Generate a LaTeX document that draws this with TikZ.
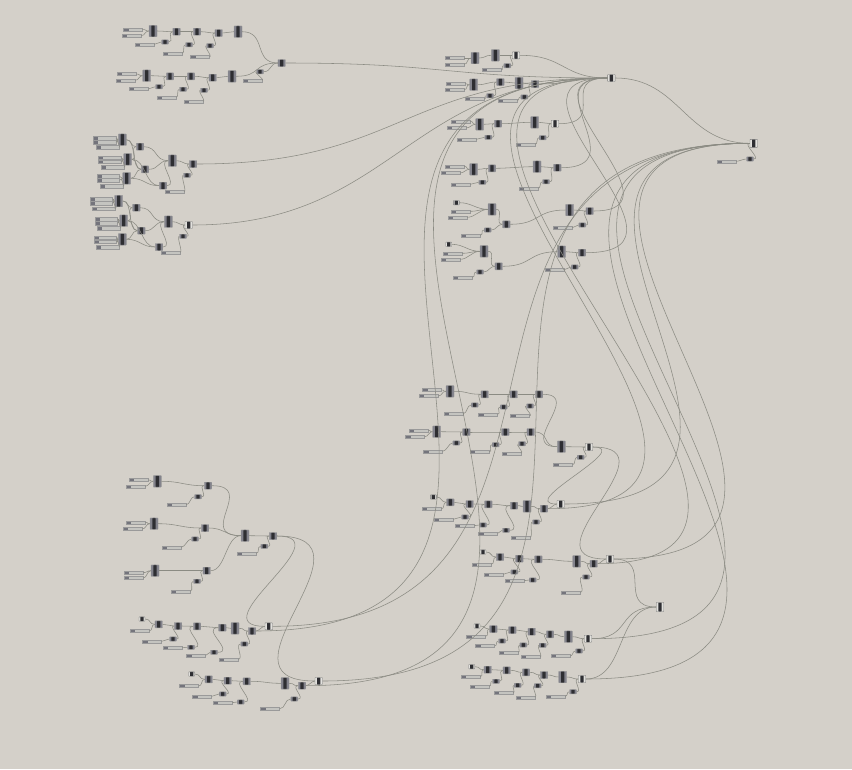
\documentclass[tikz,border=0pt]{standalone}
\definecolor{paper}{HTML}{D4D0C9}
\definecolor{wirecol}{HTML}{8B8B83}
\definecolor{edgecol}{HTML}{9A9A9A}
\definecolor{bodycol}{HTML}{83838C}
\definecolor{corecol}{HTML}{2E2E32}
\definecolor{lightcol}{HTML}{E2E1DD}
\definecolor{barcol}{HTML}{C4C4C0}
\definecolor{knobcol}{HTML}{74747C}
\tikzset{
  wire/.style={draw=wirecol, line width=0.55pt},
  comp/.style={draw=edgecol, line width=0.4pt, fill=bodycol, inner sep=0pt, rounded corners=0.5pt,
    minimum width=7.5pt, minimum height=7pt,
    path picture={\fill[corecol] ([xshift=-1.7pt]path picture bounding box.south) rectangle ([xshift=1.7pt]path picture bounding box.north);}},
  tallcomp/.style={comp, minimum width=8pt, minimum height=11.5pt},
  outcomp/.style={comp, fill=lightcol, draw=edgecol!80!black},
  tinycomp/.style={comp, minimum width=7pt, minimum height=4.2pt},
  tagcomp/.style={outcomp, minimum width=6pt, minimum height=4.4pt},
  slider/.style={draw=edgecol, line width=0.3pt, fill=barcol, inner sep=0pt, minimum width=19pt, minimum height=3.2pt,
    path picture={\fill[knobcol] (path picture bounding box.south west) rectangle ([xshift=5pt]path picture bounding box.north west);}},
  wideslider/.style={slider, minimum width=22.5pt, minimum height=3.8pt},
}
\newcommand{\wire}[3][6]{\draw[wire] (#2.east) .. controls +(#1,0) and +(-#1,0) .. (#3.west);}
\begin{document}
\begin{tikzpicture}[x=1pt, y=-1pt]
\useasboundingbox (0,0) rectangle (852,769);
\fill[paper] (0,0) rectangle (852,769);

% top left group
\node[slider] (ga-sa) at (133,29.5) {};
\node[slider] (ga-sb) at (131.5,35.7) {};
\node[tallcomp] (ga-t1) at (153,31) {};
\node[comp] (ga-m1) at (176.5,31.7) {};
\node[comp] (ga-m2) at (197,31.7) {};
\node[comp] (ga-m3) at (218.7,33) {};
\node[tallcomp] (ga-t2) at (238,31.7) {};
\node[tinycomp] (ga-k1) at (165,42) {};
\node[tinycomp] (ga-k2) at (189,44.7) {};
\node[tinycomp] (ga-k3) at (210,45.7) {};
\node[slider] (ga-s1) at (144.5,44.3) {};
\node[slider] (ga-s2) at (172.5,53.3) {};
\node[slider] (ga-s3) at (200,56.7) {};
\node[slider] (gb-sa) at (126.5,74) {};
\node[slider] (gb-sb) at (125.5,80.3) {};
\node[tallcomp] (gb-t1) at (146.7,75.7) {};
\node[comp] (gb-m1) at (170,76.3) {};
\node[comp] (gb-m2) at (191,76.3) {};
\node[comp] (gb-m3) at (212.7,77.7) {};
\node[tallcomp] (gb-t2) at (232,76.3) {};
\node[tinycomp] (gb-k1) at (159,86.7) {};
\node[tinycomp] (gb-k2) at (183,89.3) {};
\node[tinycomp] (gb-k3) at (204,90.3) {};
\node[slider] (gb-s1) at (138.5,89) {};
\node[slider] (gb-s2) at (166.5,97.3) {};
\node[slider] (gb-s3) at (193.5,101.3) {};
\node[tinycomp] (gb-k4) at (260,71.7) {};
\node[slider] (gb-s4) at (252.5,80.3) {};
\node[comp] (gout) at (281.7,63) {};
\wire[4]{ga-sa}{ga-t1}
\wire[4]{ga-sb}{ga-t1}
\wire{ga-t1}{ga-m1}
\wire{ga-m1}{ga-m2}
\wire{ga-m2}{ga-m3}
\wire{ga-m3}{ga-t2}
\wire[3]{ga-s1}{ga-k1}
\wire[3]{ga-s2}{ga-k2}
\wire[3]{ga-s3}{ga-k3}
\wire{ga-k1}{ga-m1}
\wire{ga-k2}{ga-m2}
\wire{ga-k3}{ga-m3}
\wire[25]{ga-t2}{gout}
\wire[4]{gb-sa}{gb-t1}
\wire[4]{gb-sb}{gb-t1}
\wire{gb-t1}{gb-m1}
\wire{gb-m1}{gb-m2}
\wire{gb-m2}{gb-m3}
\wire{gb-m3}{gb-t2}
\wire[3]{gb-s1}{gb-k1}
\wire[3]{gb-s2}{gb-k2}
\wire[3]{gb-s3}{gb-k3}
\wire{gb-k1}{gb-m1}
\wire{gb-k2}{gb-m2}
\wire{gb-k3}{gb-m3}
\wire[25]{gb-t2}{gout}
\wire[3]{gb-s4}{gb-k4}
\wire[8]{gb-k4}{gout}

% left middle group, upper block
\node[wideslider] (hc-sa) at (104.5,138) {};
\node[wideslider] (hc-sb) at (104.5,142) {};
\node[wideslider] (hc-sc) at (107.5,147.3) {};
\node[tallcomp] (hc-t1) at (122.3,139.7) {};
\node[wideslider] (hc-sd) at (109.5,157.7) {};
\node[wideslider] (hc-se) at (109.5,161.7) {};
\node[wideslider] (hc-sf) at (112.5,167.3) {};
\node[tallcomp] (hc-t2) at (127.7,159.3) {};
\node[wideslider] (hc-sg) at (108,176.3) {};
\node[wideslider] (hc-sh) at (108,180.3) {};
\node[wideslider] (hc-si) at (111.5,186.3) {};
\node[tallcomp] (hc-t3) at (126.7,178.3) {};
\node[comp] (hc-m1) at (140,146.7) {};
\node[comp] (hc-m2) at (145,169.3) {};
\node[comp] (hc-m3) at (163,185.7) {};
\node[tallcomp] (hc-t4) at (172.3,160.7) {};
\node[comp] (hc-out) at (193,164) {};
\node[tinycomp] (hc-k1) at (187,175.3) {};
\node[slider] (hc-s1) at (174.5,191.7) {};
\wire[3]{hc-sa}{hc-t1}
\wire[3]{hc-sb}{hc-t1}
\wire[4]{hc-sc}{hc-t1}
\wire[3]{hc-sd}{hc-t2}
\wire[3]{hc-se}{hc-t2}
\wire[4]{hc-sf}{hc-t2}
\wire[3]{hc-sg}{hc-t3}
\wire[3]{hc-sh}{hc-t3}
\wire[4]{hc-si}{hc-t3}
\wire{hc-t1}{hc-m1}
\wire{hc-t2}{hc-m1}
\wire[10]{hc-t1}{hc-m2}
\wire{hc-t2}{hc-m2}
\wire{hc-t3}{hc-m2}
\wire[14]{hc-t2}{hc-m3}
\wire[14]{hc-t3}{hc-m3}
\wire[14]{hc-m1}{hc-t4}
\wire[10]{hc-m2}{hc-t4}
\wire[12]{hc-m3}{hc-t4}
\wire{hc-t4}{hc-out}
\wire[3]{hc-s1}{hc-k1}
\wire{hc-k1}{hc-out}

% left middle group, lower block
\node[wideslider] (hd-sa) at (101,199) {};
\node[wideslider] (hd-sb) at (101,203) {};
\node[wideslider] (hd-sc) at (103.5,208.7) {};
\node[tallcomp] (hd-t1) at (118.7,201) {};
\node[wideslider] (hd-sd) at (106,219) {};
\node[wideslider] (hd-se) at (106,223) {};
\node[wideslider] (hd-sf) at (108.5,228.3) {};
\node[tallcomp] (hd-t2) at (123.7,220.7) {};
\node[wideslider] (hd-sg) at (105,237.7) {};
\node[wideslider] (hd-sh) at (105,241.7) {};
\node[wideslider] (hd-si) at (107.5,247) {};
\node[tallcomp] (hd-t3) at (122.3,239.3) {};
\node[comp] (hd-m1) at (136.3,207.7) {};
\node[comp] (hd-m2) at (141.3,230.7) {};
\node[comp] (hd-m3) at (159,247) {};
\node[tallcomp] (hd-t4) at (168.3,221.7) {};
\node[outcomp] (hd-out) at (188.7,225) {};
\node[tinycomp] (hd-k1) at (183,236.3) {};
\node[slider] (hd-s1) at (170.5,252.3) {};
\wire[3]{hd-sa}{hd-t1}
\wire[3]{hd-sb}{hd-t1}
\wire[4]{hd-sc}{hd-t1}
\wire[3]{hd-sd}{hd-t2}
\wire[3]{hd-se}{hd-t2}
\wire[4]{hd-sf}{hd-t2}
\wire[3]{hd-sg}{hd-t3}
\wire[3]{hd-sh}{hd-t3}
\wire[4]{hd-si}{hd-t3}
\wire{hd-t1}{hd-m1}
\wire{hd-t2}{hd-m1}
\wire[10]{hd-t1}{hd-m2}
\wire{hd-t2}{hd-m2}
\wire{hd-t3}{hd-m2}
\wire[14]{hd-t2}{hd-m3}
\wire[14]{hd-t3}{hd-m3}
\wire[14]{hd-m1}{hd-t4}
\wire[10]{hd-m2}{hd-t4}
\wire[12]{hd-m3}{hd-t4}
\wire{hd-t4}{hd-out}
\wire[3]{hd-s1}{hd-k1}
\wire{hd-k1}{hd-out}

% top right rows
\node[outcomp] (hubA) at (611.3,78) {};
\node[outcomp, minimum height=8pt] (hubB) at (753.7,143.3) {};
\node[tinycomp] (hubB-k) at (750,159) {};
\node[slider] (hubB-s) at (726.5,161.3) {};
\wire[3]{hubB-s}{hubB-k}
\wire[8]{hubB-k}{hubB}
\node[slider] (ra-sa) at (454.5,58) {};
\node[slider] (ra-sb) at (454.5,64.3) {};
\node[tallcomp] (ra-t1) at (475,58) {};
\node[tallcomp] (ra-t2) at (495.3,55.3) {};
\node[outcomp] (ra-out) at (516,55.3) {};
\node[tinycomp] (ra-k1) at (507.3,65.7) {};
\node[slider] (ra-s1) at (491.5,70) {};
\wire[4]{ra-sa}{ra-t1}
\wire[4]{ra-sb}{ra-t1}
\wire{ra-t1}{ra-t2}
\wire{ra-t2}{ra-out}
\wire[3]{ra-s1}{ra-k1}
\wire{ra-k1}{ra-out}
\node[slider] (rb-sa) at (455.5,83.7) {};
\node[slider] (rb-sb) at (454.5,89.7) {};
\node[tallcomp] (rb-t1) at (473.7,84.7) {};
\node[comp] (rb-m1) at (500.3,82) {};
\node[tinycomp] (rb-k1) at (490,95.7) {};
\node[slider] (rb-s1) at (474.5,99) {};
\node[tallcomp] (rb-t2) at (519,83) {};
\node[comp] (rb-out) at (535,84) {};
\node[tinycomp] (rb-k2) at (524.3,97) {};
\node[slider] (rb-s2) at (507.5,100.3) {};
\wire[4]{rb-sa}{rb-t1}
\wire[4]{rb-sb}{rb-t1}
\wire[8]{rb-t1}{rb-m1}
\wire{rb-m1}{rb-t2}
\wire{rb-t2}{rb-out}
\wire[3]{rb-s1}{rb-k1}
\wire{rb-k1}{rb-m1}
\wire[3]{rb-s2}{rb-k2}
\wire{rb-k2}{rb-out}
\node[slider] (rc-sa) at (460.5,121.3) {};
\node[slider] (rc-sb) at (456.5,128) {};
\node[tallcomp] (rc-t1) at (479.7,124.3) {};
\node[comp] (rc-m1) at (498,123.7) {};
\node[tinycomp] (rc-k1) at (488.3,137.3) {};
\node[slider] (rc-s1) at (466.5,139.3) {};
\node[tallcomp] (rc-t2) at (534.7,122.3) {};
\node[outcomp] (rc-out) at (555,123.7) {};
\node[tinycomp] (rc-k2) at (542.7,137.7) {};
\node[slider] (rc-s2) at (525.5,144.3) {};
\wire[4]{rc-sa}{rc-t1}
\wire[4]{rc-sb}{rc-t1}
\wire{rc-t1}{rc-m1}
\wire[10]{rc-m1}{rc-t2}
\wire{rc-t2}{rc-out}
\wire[3]{rc-s1}{rc-k1}
\wire{rc-k1}{rc-m1}
\wire[3]{rc-s2}{rc-k2}
\wire{rc-k2}{rc-out}
\node[slider] (rd-sa) at (454.5,166.3) {};
\node[slider] (rd-sb) at (450.5,173) {};
\node[tallcomp] (rd-t1) at (473.7,169.3) {};
\node[comp] (rd-m1) at (492,168.3) {};
\node[tinycomp] (rd-k1) at (482.3,182.3) {};
\node[slider] (rd-s1) at (460.5,184.3) {};
\node[tallcomp] (rd-t2) at (537,166.7) {};
\node[comp] (rd-out) at (557.3,167.7) {};
\node[tinycomp] (rd-k2) at (546,181.7) {};
\node[slider] (rd-s2) at (528.5,188.3) {};
\wire[4]{rd-sa}{rd-t1}
\wire[4]{rd-sb}{rd-t1}
\wire{rd-t1}{rd-m1}
\wire[10]{rd-m1}{rd-t2}
\wire{rd-t2}{rd-out}
\wire[3]{rd-s1}{rd-k1}
\wire{rd-k1}{rd-m1}
\wire[3]{rd-s2}{rd-k2}
\wire{rd-k2}{rd-out}
\node[tagcomp] (re-g) at (456.3,202.7) {};
\node[slider] (re-sa) at (460.5,211.3) {};
\node[slider] (re-sb) at (457.5,217.3) {};
\node[tallcomp] (re-t1) at (492,209.3) {};
\node[comp] (re-m1) at (506.3,224.3) {};
\node[tinycomp] (re-k1) at (487.7,230) {};
\node[slider] (re-s1) at (470.5,235.3) {};
\node[tallcomp] (re-t2) at (569.7,210) {};
\node[comp] (re-out) at (589.7,211) {};
\node[tinycomp] (re-k2) at (582.3,225) {};
\node[slider] (re-s2) at (562.5,227.7) {};
\wire[12]{re-g}{re-t1}
\wire[8]{re-sa}{re-t1}
\wire[8]{re-sb}{re-t1}
\wire[8]{re-t1}{re-m1}
\wire[4]{re-s1}{re-k1}
\wire[5]{re-k1}{re-m1}
\wire[30]{re-m1}{re-t2}
\wire{re-t2}{re-out}
\wire[3]{re-s2}{re-k2}
\wire{re-k2}{re-out}
\node[tagcomp] (rf-g) at (448.7,244.3) {};
\node[slider] (rf-sa) at (452.5,253.3) {};
\node[slider] (rf-sb) at (450.5,259.3) {};
\node[tallcomp] (rf-t1) at (484,251.3) {};
\node[comp] (rf-m1) at (498.7,266.3) {};
\node[tinycomp] (rf-k1) at (480,272) {};
\node[slider] (rf-s1) at (462.5,277.3) {};
\node[tallcomp] (rf-t2) at (561.7,251.7) {};
\node[comp] (rf-out) at (582,252.7) {};
\node[tinycomp] (rf-k2) at (574.7,267) {};
\node[slider] (rf-s2) at (554.5,269.7) {};
\wire[12]{rf-g}{rf-t1}
\wire[8]{rf-sa}{rf-t1}
\wire[8]{rf-sb}{rf-t1}
\wire[8]{rf-t1}{rf-m1}
\wire[4]{rf-s1}{rf-k1}
\wire[5]{rf-k1}{rf-m1}
\wire[30]{rf-m1}{rf-t2}
\wire{rf-t2}{rf-out}
\wire[3]{rf-s2}{rf-k2}
\wire{rf-k2}{rf-out}

% middle right rows
\node[slider] (sa-sa) at (432,390) {};
\node[slider] (sa-sb) at (428.5,396) {};
\node[tallcomp] (sa-t1) at (450,391.3) {};
\node[comp] (sa-m1) at (484.7,394.3) {};
\node[comp] (sa-m2) at (513.7,394.3) {};
\node[comp] (sa-m3) at (539,394.3) {};
\node[tinycomp] (sa-k1) at (474.7,405) {};
\node[tinycomp] (sa-k2) at (503.7,407) {};
\node[tinycomp] (sa-k3) at (530,406) {};
\node[slider] (sa-s1) at (453.5,413.7) {};
\node[slider] (sa-s2) at (488,414.3) {};
\node[slider] (sa-s3) at (520,415.7) {};
\node[slider] (sb-sa) at (418.5,430.3) {};
\node[slider] (sb-sb) at (415,436.7) {};
\node[tallcomp] (sb-t1) at (436.7,431.7) {};
\node[comp] (sb-m1) at (466.3,432) {};
\node[comp] (sb-m2) at (505.3,432) {};
\node[comp] (sb-m3) at (530.7,432) {};
\node[tinycomp] (sb-k1) at (456.3,443) {};
\node[tinycomp] (sb-k2) at (495.7,444.7) {};
\node[tinycomp] (sb-k3) at (522,443.7) {};
\node[slider] (sb-s1) at (433,451.3) {};
\node[slider] (sb-s2) at (479.5,452) {};
\node[slider] (sb-s3) at (511.5,453.3) {};
\node[tallcomp] (sb-t2) at (561.3,446.7) {};
\node[outcomp] (sb-out) at (589,447) {};
\node[tinycomp] (sb-k4) at (580.7,457.3) {};
\node[slider] (sb-s4) at (563,464.7) {};
\wire[4]{sa-sa}{sa-t1}
\wire[4]{sa-sb}{sa-t1}
\wire[14]{sa-t1}{sa-m1}
\wire{sa-m1}{sa-m2}
\wire{sa-m2}{sa-m3}
\wire[4]{sa-s1}{sa-k1}
\wire[4]{sa-s2}{sa-k2}
\wire[4]{sa-s3}{sa-k3}
\wire{sa-k1}{sa-m1}
\wire{sa-k2}{sa-m2}
\wire{sa-k3}{sa-m3}
\wire[40]{sa-m3}{sb-t2}
\wire[4]{sb-sa}{sb-t1}
\wire[4]{sb-sb}{sb-t1}
\wire[10]{sb-t1}{sb-m1}
\wire[10]{sb-m1}{sb-m2}
\wire{sb-m2}{sb-m3}
\wire[4]{sb-s1}{sb-k1}
\wire[4]{sb-s2}{sb-k2}
\wire[4]{sb-s3}{sb-k3}
\wire{sb-k1}{sb-m1}
\wire{sb-k2}{sb-m2}
\wire{sb-k3}{sb-m3}
\wire[15]{sb-m3}{sb-t2}
\wire{sb-t2}{sb-out}
\wire[3]{sb-s4}{sb-k4}
\wire{sb-k4}{sb-out}
\node[tagcomp] (sc-g) at (433.3,497) {};
\node[slider] (sc-sa) at (431.5,509) {};
\node[comp] (sc-m1) at (450.3,502.3) {};
\node[comp] (sc-m2) at (469.7,504) {};
\node[comp] (sc-m3) at (488.3,504.3) {};
\node[comp] (sc-m4) at (514,505.7) {};
\node[tallcomp] (sc-t1) at (527,506.3) {};
\node[comp] (sc-m5) at (544,508.7) {};
\node[outcomp] (sc-out) at (560.7,504) {};
\node[tinycomp] (sc-k1) at (465,517) {};
\node[tinycomp] (sc-k2) at (483,525) {};
\node[tinycomp] (sc-k3) at (506,530.3) {};
\node[tinycomp] (sc-k4) at (536,522) {};
\node[slider] (sc-s1) at (443.5,519.3) {};
\node[slider] (sc-s2) at (464.5,525.7) {};
\node[slider] (sc-s3) at (488,533.3) {};
\node[slider] (sc-s4) at (520.5,537.3) {};
\wire{sc-g}{sc-m1}
\wire[4]{sc-sa}{sc-m1}
\wire{sc-m1}{sc-m2}
\wire{sc-m2}{sc-m3}
\wire[8]{sc-m3}{sc-m4}
\wire{sc-m4}{sc-t1}
\wire{sc-t1}{sc-m5}
\wire[3]{sc-m5}{sc-out}
\wire[3]{sc-s1}{sc-k1}
\wire[3]{sc-s2}{sc-k2}
\wire[3]{sc-s3}{sc-k3}
\wire[3]{sc-s4}{sc-k4}
\wire[8]{sc-k1}{sc-m2}
\wire[10]{sc-k2}{sc-m3}
\wire[15]{sc-k3}{sc-m4}
\wire{sc-k4}{sc-m5}
\node[tagcomp] (sd-g) at (483,552) {};
\node[slider] (sd-sa) at (481.5,564.3) {};
\node[comp] (sd-m1) at (500,557) {};
\node[comp] (sd-m2) at (519.3,558.7) {};
\node[comp] (sd-m3) at (538.3,559.3) {};
\node[tallcomp] (sd-t1) at (576.7,561.3) {};
\node[comp] (sd-m4) at (593.7,563.7) {};
\node[outcomp] (sd-out) at (610,559) {};
\node[tinycomp] (sd-k1) at (514.3,572) {};
\node[tinycomp] (sd-k2) at (532.7,580) {};
\node[tinycomp] (sd-k3) at (586,577) {};
\node[slider] (sd-s1) at (493.5,574.3) {};
\node[slider] (sd-s2) at (514.5,580.7) {};
\node[slider] (sd-s3) at (570.5,592.3) {};
\wire{sd-g}{sd-m1}
\wire[4]{sd-sa}{sd-m1}
\wire{sd-m1}{sd-m2}
\wire{sd-m2}{sd-m3}
\wire[15]{sd-m3}{sd-t1}
\wire{sd-t1}{sd-m4}
\wire[3]{sd-m4}{sd-out}
\wire[3]{sd-s1}{sd-k1}
\wire[3]{sd-s2}{sd-k2}
\wire{sd-s3}{sd-k3}
\wire[8]{sd-k1}{sd-m2}
\wire[12]{sd-k2}{sd-m3}
\wire[8]{sd-k3}{sd-m4}

% bottom right rows
\node[outcomp, minimum height=9pt] (hubC) at (660,607) {};
\node[tagcomp] (se-g) at (477,626) {};
\node[slider] (se-sa) at (476,636.3) {};
\node[comp] (se-m1) at (493.3,629) {};
\node[comp] (se-m2) at (512.3,630) {};
\node[comp] (se-m3) at (531.7,631.7) {};
\node[comp] (se-m4) at (550,634.3) {};
\node[tallcomp] (se-t1) at (568.3,636.7) {};
\node[outcomp] (se-out) at (588,638.7) {};
\node[tinycomp] (se-k1) at (502,641) {};
\node[tinycomp] (se-k2) at (523.3,645) {};
\node[tinycomp] (se-k3) at (542.7,645.3) {};
\node[tinycomp] (se-k4) at (579,651) {};
\node[slider] (se-s1) at (485,646) {};
\node[slider] (se-s2) at (508.5,652.3) {};
\node[slider] (se-s3) at (530.5,657) {};
\node[slider] (se-s4) at (560.5,656) {};
\wire{se-g}{se-m1}
\wire[4]{se-sa}{se-m1}
\wire{se-m1}{se-m2}
\wire{se-m2}{se-m3}
\wire{se-m3}{se-m4}
\wire{se-m4}{se-t1}
\wire{se-t1}{se-out}
\wire[3]{se-s1}{se-k1}
\wire[3]{se-s2}{se-k2}
\wire[3]{se-s3}{se-k3}
\wire[3]{se-s4}{se-k4}
\wire{se-k1}{se-m2}
\wire{se-k2}{se-m3}
\wire{se-k3}{se-m4}
\wire{se-k4}{se-out}
\node[tagcomp] (sf-g) at (471.7,666.7) {};
\node[slider] (sf-sa) at (470.5,676.7) {};
\node[comp] (sf-m1) at (487.7,669.7) {};
\node[comp] (sf-m2) at (506.7,670.3) {};
\node[comp] (sf-m3) at (526,672.3) {};
\node[comp] (sf-m4) at (544,675) {};
\node[tallcomp] (sf-t1) at (562.7,677) {};
\node[outcomp] (sf-out) at (582,679) {};
\node[tinycomp] (sf-k1) at (496,681.3) {};
\node[tinycomp] (sf-k2) at (517.7,685.3) {};
\node[tinycomp] (sf-k3) at (537.7,685.7) {};
\node[tinycomp] (sf-k4) at (573,691.7) {};
\node[slider] (sf-s1) at (479.5,686.3) {};
\node[slider] (sf-s2) at (503.5,693) {};
\node[slider] (sf-s3) at (525.5,697.3) {};
\node[slider] (sf-s4) at (555.5,696.3) {};
\wire{sf-g}{sf-m1}
\wire[4]{sf-sa}{sf-m1}
\wire{sf-m1}{sf-m2}
\wire{sf-m2}{sf-m3}
\wire{sf-m3}{sf-m4}
\wire{sf-m4}{sf-t1}
\wire{sf-t1}{sf-out}
\wire[3]{sf-s1}{sf-k1}
\wire[3]{sf-s2}{sf-k2}
\wire[3]{sf-s3}{sf-k3}
\wire[3]{sf-s4}{sf-k4}
\wire{sf-k1}{sf-m2}
\wire{sf-k2}{sf-m3}
\wire{sf-k3}{sf-m4}
\wire{sf-k4}{sf-out}

% bottom left group
\node[slider] (ea-sa) at (138.5,480) {};
\node[slider] (ea-sb) at (135.5,486.3) {};
\node[tallcomp] (ea-t1) at (157.3,481.3) {};
\node[comp] (ea-m1) at (208,485.7) {};
\node[tinycomp] (ea-k1) at (198,496.7) {};
\node[slider] (ea-s1) at (176.5,504.7) {};
\node[slider] (eb-sa) at (135.5,522.3) {};
\node[slider] (eb-sb) at (132.5,529) {};
\node[tallcomp] (eb-t1) at (154,523.7) {};
\node[comp] (eb-m1) at (205,528) {};
\node[tinycomp] (eb-k1) at (195,539) {};
\node[slider] (eb-s1) at (171.5,547.3) {};
\node[slider] (ec-sa) at (133.5,572.7) {};
\node[slider] (ec-sb) at (133.5,578) {};
\node[tallcomp] (ec-t1) at (155,570.7) {};
\node[comp] (ec-m1) at (206.7,570.7) {};
\node[tinycomp] (ec-k1) at (197,581.3) {};
\node[slider] (ec-s1) at (180.5,591.3) {};
\node[tallcomp] (ed-t1) at (245,535.7) {};
\node[comp] (ed-out) at (273,536) {};
\node[tinycomp] (ed-k1) at (264.3,546.3) {};
\node[slider] (ed-s1) at (246.5,553.3) {};
\wire[4]{ea-sa}{ea-t1}
\wire[4]{ea-sb}{ea-t1}
\wire[20]{ea-t1}{ea-m1}
\wire[4]{ea-s1}{ea-k1}
\wire{ea-k1}{ea-m1}
\wire[4]{eb-sa}{eb-t1}
\wire[4]{eb-sb}{eb-t1}
\wire[20]{eb-t1}{eb-m1}
\wire[4]{eb-s1}{eb-k1}
\wire{eb-k1}{eb-m1}
\wire[4]{ec-sa}{ec-t1}
\wire[4]{ec-sb}{ec-t1}
\wire[20]{ec-t1}{ec-m1}
\wire[4]{ec-s1}{ec-k1}
\wire{ec-k1}{ec-m1}
\wire[45]{ea-m1}{ed-t1}
\wire[15]{eb-m1}{ed-t1}
\wire[15]{ec-m1}{ed-t1}
\wire{ed-t1}{ed-out}
\wire[4]{ed-s1}{ed-k1}
\wire{ed-k1}{ed-out}
\node[tagcomp] (fa-g) at (142,619) {};
\node[slider] (fa-sa) at (139.5,631) {};
\node[comp] (fa-m1) at (158.7,624.3) {};
\node[comp] (fa-m2) at (178,626) {};
\node[comp] (fa-m3) at (197,626.3) {};
\node[comp] (fa-m4) at (222.3,627.7) {};
\node[tallcomp] (fa-t1) at (235,628.3) {};
\node[comp] (fa-m5) at (252,631) {};
\node[outcomp] (fa-out) at (268.7,626.3) {};
\node[tinycomp] (fa-k1) at (173,639) {};
\node[tinycomp] (fa-k2) at (191,647.3) {};
\node[tinycomp] (fa-k3) at (214,652.3) {};
\node[tinycomp] (fa-k4) at (244.3,644) {};
\node[slider] (fa-s1) at (152,641.3) {};
\node[slider] (fa-s2) at (172.5,647.7) {};
\node[slider] (fa-s3) at (196,655.3) {};
\node[slider] (fa-s4) at (228.5,659.3) {};
\wire{fa-g}{fa-m1}
\wire[4]{fa-sa}{fa-m1}
\wire{fa-m1}{fa-m2}
\wire{fa-m2}{fa-m3}
\wire[8]{fa-m3}{fa-m4}
\wire[3]{fa-m4}{fa-t1}
\wire{fa-t1}{fa-m5}
\wire[3]{fa-m5}{fa-out}
\wire[3]{fa-s1}{fa-k1}
\wire[3]{fa-s2}{fa-k2}
\wire[3]{fa-s3}{fa-k3}
\wire{fa-s4}{fa-k4}
\wire{fa-k1}{fa-m2}
\wire[12]{fa-k2}{fa-m3}
\wire[18]{fa-k3}{fa-m4}
\wire{fa-k4}{fa-m5}
\node[tagcomp] (fb-g) at (191.7,674) {};
\node[slider] (fb-sa) at (189,686) {};
\node[comp] (fb-m1) at (208.7,679.3) {};
\node[comp] (fb-m2) at (227.7,680.7) {};
\node[comp] (fb-m3) at (246.7,681.3) {};
\node[tallcomp] (fb-t1) at (285,683.3) {};
\node[comp] (fb-m4) at (302,685.7) {};
\node[outcomp] (fb-out) at (318.7,681) {};
\node[tinycomp] (fb-k1) at (222.7,694) {};
\node[tinycomp] (fb-k2) at (240.7,702) {};
\node[tinycomp] (fb-k3) at (294.3,699) {};
\node[slider] (fb-s1) at (202,696.3) {};
\node[slider] (fb-s2) at (222.5,702.7) {};
\node[slider] (fb-s3) at (270,708.7) {};
\wire{fb-g}{fb-m1}
\wire[4]{fb-sa}{fb-m1}
\wire{fb-m1}{fb-m2}
\wire{fb-m2}{fb-m3}
\wire[15]{fb-m3}{fb-t1}
\wire{fb-t1}{fb-m4}
\wire[3]{fb-m4}{fb-out}
\wire[3]{fb-s1}{fb-k1}
\wire[3]{fb-s2}{fb-k2}
\wire{fb-s3}{fb-k3}
\wire[8]{fb-k1}{fb-m2}
\wire[12]{fb-k2}{fb-m3}
\wire[8]{fb-k3}{fb-m4}

% long wires
\wire[160]{gout}{hubA}
\wire[205]{hc-out}{hubA}
\wire[200]{hd-out}{hubA}
\wire[45]{ra-out}{hubA}
\wire[30]{rb-out}{hubA}
\wire[50]{rc-out}{hubA}
\wire[76]{rd-out}{hubA}
\wire[97]{re-out}{hubA}
\wire[132]{rf-out}{hubA}
\wire[65]{hubA}{hubB}
\wire[67]{ed-out}{fa-out}
\wire[110]{ed-out}{fb-out}
\wire[42]{sb-out}{sc-out}
\wire[85]{sb-out}{sd-out}
\wire[410]{fa-m5}{hubA}
\wire[430]{fb-m4}{hubA}
\wire[366]{fa-out}{hubB}
\wire[412]{fb-out}{hubB}
\wire[310]{sc-m5}{hubA}
\wire[310]{sd-m4}{hubA}
\wire[300]{sc-out}{hubB}
\wire[318]{sd-out}{hubB}
\wire[410]{sf-out}{hubB}
\wire[385]{se-out}{hubB}
\wire[40]{sd-out}{hubC}
\wire[40]{se-out}{hubC}
\wire[40]{sf-out}{hubC}
\end{tikzpicture}
\end{document}
